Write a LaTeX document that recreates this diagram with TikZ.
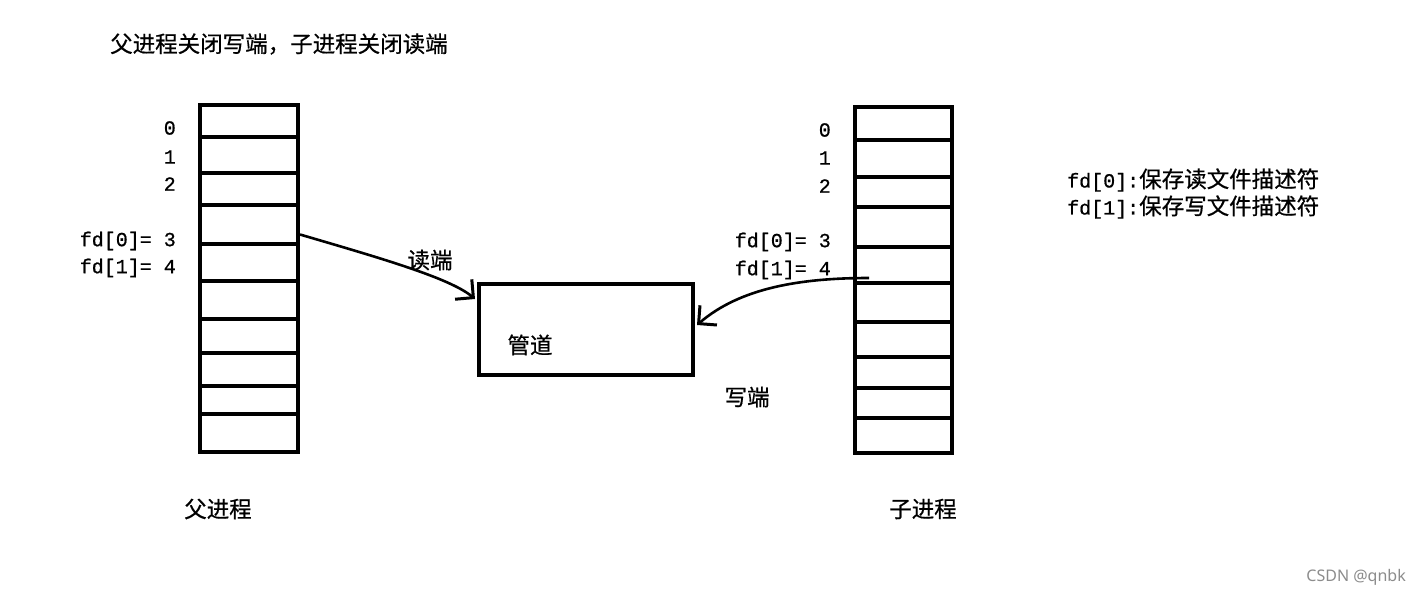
\documentclass[tikz,border=0pt]{standalone}
\usepackage{fontspec}
\setmainfont{Noto Sans CJK SC}[FakeBold=0.6]
\newfontfamily\fdfont{Liberation Mono}[FakeBold=0.8]
\newfontfamily\markfont{Noto Sans}
\usetikzlibrary{positioning, calc, arrows.meta}

\tikzset{
    cell/.style={draw, line width=4.5pt, minimum width=98pt, anchor=north west, inner sep=0pt, outer sep=0pt},
    zh/.style={font=\fontsize{22.5}{26}\selectfont, inner sep=0pt},
    fdlabel/.style={font=\fdfont\fontsize{20}{24}\selectfont, inner sep=0pt, anchor=east},
    barb/.style={-{Straight Barb[length=13pt,width=26pt,line width=3pt]}, line width=2.6pt}
}

\begin{document}
\begin{tikzpicture}[x=1pt, y=-1pt]
    \useasboundingbox (0,0) rectangle (1421,597);
    \fill[white] (0,0) rectangle (1421,597);

    % title
    \node[zh, anchor=west] (title) at (110,44) {父进程关闭写端，子进程关闭读端};

    % parent file table
    \foreach \i/\ya/\yb [evaluate=\yb as \h using \yb-\ya] in
        {0/105/137, 1/137/173, 2/173/205, 3/205/244, 4/244/281,
         5/281/319, 6/319/353, 7/353/386, 8/386/414, 9/414/452}
        \node[cell, minimum height=\h pt] (pl\i) at (200,\ya) {};
    \node[fdlabel] (lzero) at (176,128) {0};
    \node[fdlabel] (lone) at (176,157) {1};
    \node[fdlabel] (ltwo) at (176,184) {2};
    \node[fdlabel] (lread) at (176,241) {fd[0]= 3};
    \node[fdlabel] (lwrite) at (176,268) {fd[1]= 4};
    \node[zh] (parent) at (218,509) {父进程};

    % child file table
    \foreach \i/\ya/\yb [evaluate=\yb as \h using \yb-\ya] in
        {0/107/140, 1/140/177, 2/177/207, 3/207/247, 4/247/283,
         5/283/322, 6/322/357, 7/357/388, 8/388/418, 9/418/453}
        \node[cell, minimum height=\h pt, minimum width=97pt] (pr\i) at (855,\ya) {};
    \node[fdlabel] (rzero) at (831,130) {0};
    \node[fdlabel] (rone) at (831,158) {1};
    \node[fdlabel] (rtwo) at (831,186) {2};
    \node[fdlabel] (rread) at (831,242) {fd[0]= 3};
    \node[fdlabel] (rwrite) at (831,270) {fd[1]= 4};
    \node[zh] (child) at (923,509) {子进程};

    % pipe
    \node[draw, line width=4pt, minimum width=214pt, minimum height=91pt,
          anchor=north west, inner sep=0pt, outer sep=0pt] (pipe) at (479,284) {};
    \node[zh] (pipename) at (530,345) {管道};

    % read and write ends
    \draw[barb] ([xshift=2pt,yshift=-10pt]pl3.east) .. controls (380,258) and (450,278) ..
        ([xshift=-4pt,yshift=-15pt]pipe.north west);
    \node[zh] (readend) at (430,260) {读端};
    \draw[barb] ([xshift=14pt,yshift=5pt]pr4.south west) .. controls (800,278) and (740,288) ..
        ([xshift=4pt,yshift=-41pt]pipe.north east);
    \node[zh] (writeend) at (747,397) {写端};

    % legend
    \node[zh, anchor=west] (legread) at (1067,180) {{\fdfont\fontsize{20}{24}\selectfont fd[0]:}保存读文件描述符};
    \node[zh, anchor=west] (legwrite) at (1067,207) {{\fdfont\fontsize{20}{24}\selectfont fd[1]:}保存写文件描述符};

    \node[font=\markfont\fontsize{16}{18}\selectfont, text=black!45, anchor=east, inner sep=0pt]
        (mark) at (1406,577) {CSDN @qnbk};
\end{tikzpicture}
\end{document}
